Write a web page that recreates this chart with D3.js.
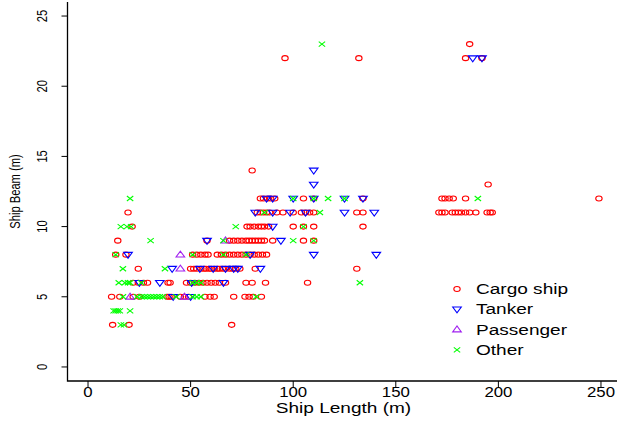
<!DOCTYPE html>
<html>
<head>
<meta charset="utf-8">
<script src="https://cdn.jsdelivr.net/npm/d3@7/dist/d3.min.js"></script>
<style>
  body { margin: 0; background: #fff; }
  svg text { font-family: "Liberation Sans", Arial, sans-serif; }
</style>
</head>
<body>
<div class="chart"></div>
<script>
// ship length vs beam, one array of [length, beam] per ship type
var cargo = [
  [12,3],[20,3],[70,3],
  [11.5,5],[15.5,5],[22,5],[25,5],[38.5,5],[39.5,5],[40.5,5],[45,5],[47,5],[49,5],[57,5],[59.5,5],[61.5,5],[71,5],[76.5,5],[78.5,5],[80.5,5],[84.5,5],
  [22,6],[24.5,6],[27,6],[29,6],[39,6],[40,6],[48,6],[50,6],[52,6],[54,6],[56,6],[58,6],[60,6],[62,6],[64,6],[67,6],[77,6],[80,6],[86.5,6],[107,6],
  [24.5,7],[50,7],[51.5,7],[53,7],[55,7],[56.5,7],[57.5,7],[59,7],[60,7],[61.5,7],[63,7],[64,7],[65.5,7],[67,7],[69,7],[70.5,7],[72,7],[74,7],[81.5,7],[131,7],
  [13.5,8],[18.5,8],[51,8],[53,8],[55,8],[57,8],[58.5,8],[63,8],[65,8],[67,8],[69,8],[71,8],[73,8],[75,8],[77,8],[79,8],[81,8],[83,8],[85,8],[87,8],
  [14.5,9],[58,9],[69,9],[71,9],[73,9],[75,9],[77,9],[78.5,9],[80,9],[81.5,9],[83,9],[84.5,9],[86,9],[90,9],[105,9],[110,9],
  [21.5,10],[77.5,10],[79,10],[81,10],[83,10],[84.5,10],[86,10],[88,10],[100,10],[105,10],[110,10],[134,10],
  [19.5,11],[82.5,11],[84,11],[85.5,11],[87,11],[88.5,11],[92,11],[95,11],[100,11],[104,11],[106,11],[108,11],[110,11],[131,11],[134,11],
  [171,11],[172.5,11],[174,11],[177.5,11],[179,11],[180.5,11],[182,11],[184,11],[186,11],[189,11],[194.5,11],[196,11],[197,11],
  [84,12],[85.5,12],[87.5,12],[89,12],[91,12],[105,12],[110,12],[134,12],[172.5,12],[174,12],[176,12],[178,12],[184,12],[249,12],
  [195,13],[80,14],
  [96,22],[132,22],[184,22],[192,22],[186,23]
];
var tanker = [
  [41.5,5],[50,5],
  [25,6],[35,6],[50.5,6],[66,6],
  [41,7],[54.5,7],[61,7],[67,7],[71,7],[73,7],[84,7],
  [19.5,8],[79,8],[110,8],[140.5,8],
  [58,9],[94,9],
  [90,10],
  [81.5,11],[90,11],[98.5,11],[106,11],[125,11],[139.5,11],
  [87,12],[90,12],[100,12],[110,12],[125,12],[134,12],
  [110,13],[110,14],
  [187.5,22],[192,22]
];
var passenger = [
  [20.5,5],[47,5],[45,7],[45,8],[67,9]
];
var other = [
  [16,3],[17.5,3],
  [12.5,4],[13.5,4],[14.5,4],[15.5,4],[20.5,4],
  [17,5],[24,5],[26,5],[27.5,5],[29,5],[30.5,5],[32,5],[33.5,5],[35,5],[36.5,5],[43,5],[51,5],[53,5],[55,5],[82,5],
  [15,6],[18,6],[19.5,6],[20.5,6],[26,6],[51,6],[53,6],[55,6],[132.5,6],
  [17,7],[37.5,7],
  [13.5,8],[51,8],[66,8],[77,8],
  [30.5,9],[66,9],[100,9],[110,9],
  [16,10],[19,10],[21,10],[72,10],[105,10],
  [86,11],[113,11],
  [20.5,12],[100,12],[110,12],[117,12],[125,12],[190,12],
  [114,23]
];
var legendLabels = ["Cargo ship", "Tanker", "Passenger", "Other"];
var xTicks = [0, 50, 100, 150, 200, 250];
var yTicks = [0, 5, 10, 15, 20, 25];

var width = 617,
    height = 421;

var x = d3.scaleLinear().domain([-10, 260]).range([67.5, 621.5]);
var y = d3.scaleLinear().domain([-1, 26]).range([381, 2]);

var svg = d3.select(".chart").append("svg")
  .attr("width", width)
  .attr("height", height);

// marker shapes, like R's pch 1, 6, 2, 4 but a bit wider than tall
var shapes = {
  circle: function(g){ return g.append("ellipse").attr("rx", 3.2).attr("ry", 2.5); },
  down: function(g){ return g.append("path").attr("d", "M-4.3,-2.3L4.3,-2.3L0,3.6Z"); },
  up: function(g){ return g.append("path").attr("d", "M-4.3,2.3L4.3,2.3L0,-3.6Z"); },
  cross: function(g){ return g.append("path").attr("d", "M-3.2,-2.5L3.2,2.5M-3.2,2.5L3.2,-2.5"); }
};
var series = [
  {data: cargo, shape: "circle", col: "#ff0000"},
  {data: tanker, shape: "down", col: "#0000ff"},
  {data: passenger, shape: "up", col: "#a020f0"},
  {data: other, shape: "cross", col: "#00ff00"}
];

series.forEach(function(s){
  var pts = svg.append("g").selectAll("g")
    .data(s.data).enter()
    .append("g")
    .attr("transform", function(d){ return "translate(" + x(d[0]) + "," + y(d[1]) + ")"; });
  shapes[s.shape](pts)
    .attr("fill", "none")
    .attr("stroke", s.col)
    .attr("stroke-width", 1.1);
});

// L shaped box
svg.append("path")
  .attr("d", "M" + x.range()[0] + "," + y.range()[1] + "V" + y.range()[0] + "H" + x.range()[1])
  .attr("fill", "none")
  .attr("stroke", "#000")
  .attr("stroke-width", 1.3);

// x axis, text drawn a bit wide like the reference
var xa = svg.append("g");
xa.selectAll("line").data(xTicks).enter().append("line")
  .attr("x1", function(d){ return x(d); }).attr("x2", function(d){ return x(d); })
  .attr("y1", y(-1)).attr("y2", y(-1) + 6)
  .attr("stroke", "#000");
xa.selectAll("text").data(xTicks).enter().append("text")
  .attr("transform", function(d){ return "translate(" + x(d) + ",397) scale(1.2,1)"; })
  .attr("text-anchor", "middle")
  .attr("font-size", 14)
  .text(function(d){ return d; });
svg.append("text")
  .attr("transform", "translate(" + ((x.range()[0] + x.range()[1]) / 2 - 1) + ",413) scale(1.36,1)")
  .attr("text-anchor", "middle")
  .attr("font-size", 14)
  .text("Ship Length (m)");

// y axis, labels rotated and narrow
var ya = svg.append("g");
ya.selectAll("line").data(yTicks).enter().append("line")
  .attr("x1", x(-10) - 6).attr("x2", x(-10))
  .attr("y1", function(d){ return y(d); }).attr("y2", function(d){ return y(d); })
  .attr("stroke", "#000");
ya.selectAll("text").data(yTicks).enter().append("text")
  .attr("transform", function(d){ return "translate(47," + y(d) + ") rotate(-90) scale(0.8,1)"; })
  .attr("text-anchor", "middle")
  .attr("font-size", 14)
  .text(function(d){ return d; });
svg.append("text")
  .attr("transform", "translate(20," + (y.range()[0] + y.range()[1]) / 2 + ") rotate(-90) scale(0.8,1)")
  .attr("text-anchor", "middle")
  .attr("font-size", 14)
  .text("Ship Beam (m)");

// legend
var legend = svg.selectAll(".legend")
  .data(series).enter()
  .append("g")
  .attr("class", "legend")
  .attr("transform", function(d, i){ return "translate(457," + (289 + i * 20.3) + ")"; });
legend.each(function(d){
  shapes[d.shape](d3.select(this))
    .attr("fill", "none")
    .attr("stroke", d.col)
    .attr("stroke-width", 1.1);
});
legend.append("text")
  .attr("transform", "translate(19,5) scale(1.36,1)")
  .attr("font-size", 14)
  .text(function(d, i){ return legendLabels[i]; });
</script>
</body>
</html>
